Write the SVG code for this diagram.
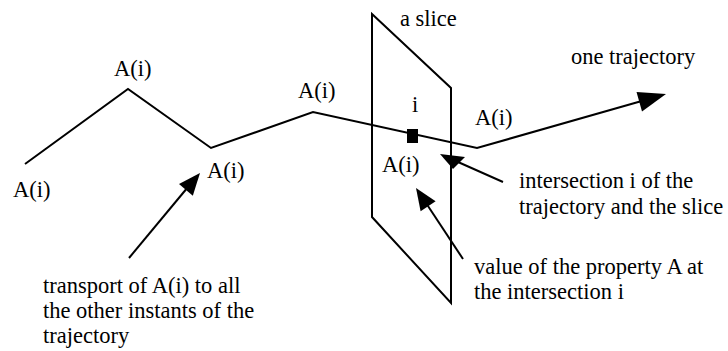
<svg xmlns="http://www.w3.org/2000/svg" width="728" height="351" viewBox="0 0 728 351">
<style>
  .ln { fill: none; stroke: #000; stroke-width: 2; stroke-linejoin: miter; }
  .hd { fill: #000; stroke: none; }
</style>
<rect width="728" height="351" fill="#fff"/>
<g font-family="Liberation Serif, DejaVu Serif, Noto Serif, serif" font-size="22.5" fill="#000">
<g id="slice">
  <polygon class="ln" points="372,14 451,88 451,303 372,217"/>
  <text x="400" y="26">a slice</text>
</g>
<g id="trajectory">
  <polyline class="ln" points="25,164 128,89 211,148 313,112 477,148 640,101.5"/>
  <polygon class="hd" points="666,94 636.5,92 642,111.5"/>
  <text x="571" y="64">one trajectory</text>
</g>
<g id="intersection">
  <rect x="407" y="129" width="11" height="14" fill="#000"/>
  <text x="412" y="112">i</text>
</g>
<g id="labels">
  <text x="13" y="197">A(i)</text>
  <text x="114" y="76">A(i)</text>
  <text x="207" y="178">A(i)</text>
  <text x="298" y="98">A(i)</text>
  <text x="382" y="172">A(i)</text>
  <text x="475" y="125">A(i)</text>
</g>
<g id="connectors">
  <line class="ln" x1="129" y1="258" x2="188" y2="187"/>
  <polygon class="hd" points="200,173 179,184 192.8,195.7"/>
  <line class="ln" x1="503" y1="182" x2="458" y2="162"/>
  <polygon class="hd" points="440,154 465,157 453,169"/>
  <line class="ln" x1="463" y1="259" x2="426" y2="203"/>
  <polygon class="hd" points="416,188 435.6,201.3 420.6,211.3"/>
</g>
<g id="notes">
  <text x="519" y="188">intersection i of the</text>
  <text x="519" y="214">trajectory and the slice</text>
  <text x="474" y="274">value of the property A at</text>
  <text x="474" y="299">the intersection i</text>
  <text x="43" y="293">transport of A(i) to all</text>
  <text x="43" y="318">the other instants of the</text>
  <text x="43" y="343">trajectory</text>
</g>
</g>
</svg>
